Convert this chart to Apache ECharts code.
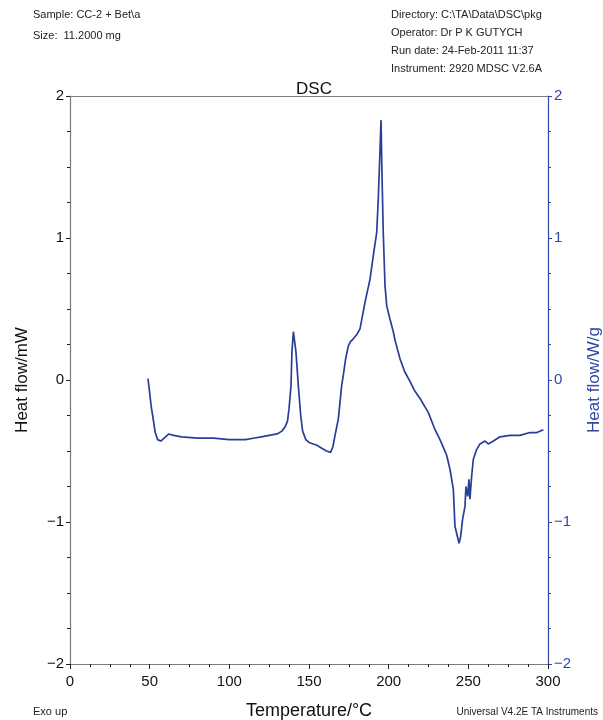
<!DOCTYPE html>
<html><head><meta charset="utf-8">
<script src="https://cdn.jsdelivr.net/npm/echarts@6/dist/echarts.min.js"></script>
<style>html,body{margin:0;padding:0;background:#fff}#c{width:603px;height:720px}</style>
</head><body><div id="c"></div>
<script>
// Temperature (°C)
var temps = [48.9, 49.6, 50.3, 51.0, 52.3, 53.5, 55, 57, 60, 62, 65, 70, 80, 90, 100, 110, 115, 120, 125, 130, 133, 135, 136.5, 137.5, 138.7, 139.3, 140.2, 141.8, 143.3, 144.8, 146, 148, 150, 155, 158, 161, 163.5, 165, 166.5, 168.4, 170.5, 171.5, 173, 174.7, 176, 177.8, 180, 182, 185.2, 188.3, 190.4, 192.5, 193.5, 194.6, 195.2, 195.7, 196.6, 197.7, 198.8, 200.8, 202.9, 204, 207.1, 210, 213.4, 216, 219.7, 224.9, 229.1, 232.2, 234.5, 236.4, 238.5, 240.6, 241.6, 243.1, 244.2, 245.2, 246.4, 247.9, 248.5, 249.6, 250.4, 251, 252.1, 253.1, 255.2, 257.3, 260.5, 262.5, 265.7, 269.9, 276.2, 282.4, 288.7, 293, 297.1];
// Heat flow (mW)
var heatFlow = [0.01, -0.05, -0.12, -0.19, -0.28, -0.37, -0.42, -0.43, -0.40, -0.38, -0.39, -0.40, -0.41, -0.41, -0.42, -0.42, -0.41, -0.40, -0.39, -0.38, -0.36, -0.33, -0.29, -0.2, -0.04, 0.2, 0.34, 0.2, -0.04, -0.25, -0.36, -0.42, -0.44, -0.46, -0.48, -0.50, -0.51, -0.47, -0.38, -0.275, -0.04, 0.03, 0.15, 0.24, 0.27, 0.29, 0.32, 0.36, 0.55, 0.71, 0.88, 1.04, 1.28, 1.63, 1.83, 1.51, 1.04, 0.665, 0.52, 0.43, 0.34, 0.28, 0.15, 0.06, -0.01, -0.07, -0.13, -0.23, -0.35, -0.42, -0.48, -0.53, -0.63, -0.77, -1.03, -1.10, -1.15, -1.10, -0.98, -0.89, -0.75, -0.82, -0.70, -0.84, -0.675, -0.56, -0.49, -0.45, -0.43, -0.45, -0.43, -0.40, -0.39, -0.39, -0.37, -0.37, -0.35];
var xTicks = [0, 50, 100, 150, 200, 250, 300];
var yTicks = [-2, -1, 0, 1, 2];

var blue = '#3246a8';
var lineBlue = '#2a3e98';
var gray = '#7a7a7a';
var font = 'Liberation Sans, Arial, Helvetica, sans-serif';
function fmt(v){ return v < 0 ? '\u2212' + Math.abs(v) : String(v); }

var data = temps.map(function(t, i){ return [t, heatFlow[i]]; });
var chart = echarts.init(document.getElementById('c'), null, {renderer:'canvas'});
var yCommon = {
  type:'value', min:yTicks[0], max:yTicks[yTicks.length-1], interval:1,
  splitLine:{show:false},
  nameLocation:'middle', nameRotate:90
};
chart.setOption({
  animation:false,
  backgroundColor:'#fff',
  title:{text:'DSC', left:309, top:76, textAlign:'center',
    textStyle:{fontFamily:font, fontSize:17, fontWeight:'normal', color:'#111'}},
  graphic:[
    {type:'text', left:33, top:9, style:{text:'Sample: CC-2 + Bet\\a', font:'11px '+font, fill:'#222'}},
    {type:'text', left:33, top:30, style:{text:'Size:  11.2000 mg', font:'11px '+font, fill:'#222'}},
    {type:'text', left:391, top:9, style:{text:'Directory: C:\\TA\\Data\\DSC\\pkg', font:'11px '+font, fill:'#222'}},
    {type:'text', left:391, top:27, style:{text:'Operator: Dr P K GUTYCH', font:'11px '+font, fill:'#222'}},
    {type:'text', left:391, top:45, style:{text:'Run date: 24-Feb-2011 11:37', font:'11px '+font, fill:'#222'}},
    {type:'text', left:391, top:63, style:{text:'Instrument: 2920 MDSC V2.6A', font:'11px '+font, fill:'#222'}},
    {type:'text', left:33, top:706, style:{text:'Exo up', font:'11px '+font, fill:'#222'}},
    {type:'text', right:5, top:707, style:{text:'Universal V4.2E TA Instruments', font:'10px '+font, fill:'#222'}}
  ],
  grid:{left:70, right:55, top:96, bottom:56, show:false, containLabel:false, outerBoundsMode:'none'},
  xAxis:[{
    type:'value', min:xTicks[0], max:xTicks[xTicks.length-1], interval:50,
    name:'Temperature/\u00b0C', nameLocation:'middle', nameGap:38,
    nameTextStyle:{fontFamily:font, fontSize:18, color:'#111'},
    axisLine:{show:true, onZero:false, lineStyle:{color:gray, width:1.2}},
    axisTick:{show:true, inside:false, length:5, lineStyle:{color:'#222'}},
    minorTick:{show:true, splitNumber:4, length:3, lineStyle:{color:'#222'}},
    axisLabel:{fontFamily:font, fontSize:15, color:'#111', margin:10},
    splitLine:{show:false}
  },{
    type:'value', position:'top', min:0, max:300,
    axisLine:{show:true, onZero:false, lineStyle:{color:gray, width:1.2}},
    axisTick:{show:false}, axisLabel:{show:false}, splitLine:{show:false}
  }],
  yAxis:[Object.assign({}, yCommon, {
    position:'left', name:'Heat flow/mW', nameGap:39,
    nameTextStyle:{fontFamily:font, fontSize:17, color:'#111'},
    axisLine:{show:true, onZero:false, lineStyle:{color:gray, width:1.2}},
    axisTick:{show:true, length:4, lineStyle:{color:'#222'}},
    minorTick:{show:true, splitNumber:4, length:3, lineStyle:{color:'#222'}},
    axisLabel:{fontFamily:font, fontSize:15, color:'#111', margin:6, formatter:fmt}
  }), Object.assign({}, yCommon, {
    position:'right', name:'Heat flow/W/g', nameGap:38,
    nameTextStyle:{fontFamily:font, fontSize:17, color:blue},
    axisLine:{show:true, onZero:false, lineStyle:{color:blue, width:1.2}},
    axisTick:{show:true, length:4, lineStyle:{color:blue}},
    minorTick:{show:true, splitNumber:4, length:3, lineStyle:{color:blue}},
    axisLabel:{fontFamily:font, fontSize:15, color:blue, margin:6, formatter:fmt}
  })],
  series:[{
    type:'line', data:data, xAxisIndex:0, yAxisIndex:0,
    showSymbol:false, smooth:false,
    lineStyle:{color:lineBlue, width:1.7}
  }]
});
</script></body></html>
